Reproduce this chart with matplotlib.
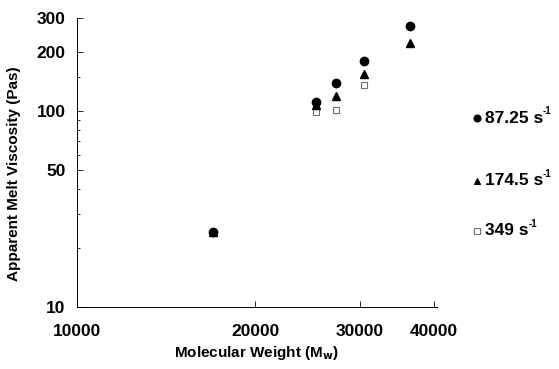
import matplotlib.pyplot as plt
from matplotlib.lines import Line2D
from matplotlib.ticker import FixedLocator, NullFormatter, NullLocator

plt.rcParams['font.family'] = ['Liberation Sans', 'DejaVu Sans']
plt.rcParams['font.weight'] = 'bold'

# molecular weight (Mw) and apparent melt viscosity (Pas) at three shear rates
mw = [17000, 25300, 27400, 30500, 36400]
visc_87 = [24.2, 112, 140, 180, 272]
visc_174 = [24.2, 108, 119, 155, 223]
mw_349 = [17000, 25300, 27400, 30500]
visc_349 = [24.2, 99, 101, 136]

series_labels = ['87.25 s', '174.5 s', '349 s']
y_ticks = [10, 50, 100, 200, 300]
x_ticks = [10000, 20000, 30000, 40000]

fig = plt.figure(figsize=(5.59, 3.69), dpi=100)
ax = fig.add_axes([0.137, 0.168, 0.645, 0.784])

ax.plot(mw_349, visc_349, 's', mfc='white', mec='#6e6e6e', ms=5, mew=0.8, zorder=2)
ax.plot(mw, visc_174, '^', color='black', ms=6, zorder=3)
ax.plot(mw, visc_87, 'o', color='black', ms=6, zorder=4)

ax.set_xscale('log')
ax.set_yscale('log')
ax.set_xlim(10000, 40500)
ax.set_ylim(10, 300)

ax.yaxis.set_major_locator(FixedLocator(y_ticks))
ax.set_yticklabels([str(v) for v in y_ticks])
ax.yaxis.set_minor_locator(FixedLocator([20, 30, 40, 60, 70, 80, 90, 150]))
ax.yaxis.set_minor_formatter(NullFormatter())
ax.xaxis.set_major_locator(FixedLocator(x_ticks))
ax.set_xticklabels([str(v) for v in x_ticks])
ax.xaxis.set_minor_locator(NullLocator())

ax.spines['top'].set_visible(False)
ax.spines['right'].set_visible(False)
ax.spines['left'].set_linewidth(0.7)
ax.spines['bottom'].set_linewidth(0.7)
ax.tick_params(axis='both', which='both', direction='in', width=0.6)
ax.tick_params(axis='both', which='major', length=4, labelsize=12.5)
ax.tick_params(axis='both', which='minor', length=2)
ax.tick_params(axis='x', pad=12)
ax.tick_params(axis='y', pad=8)

ax.set_xlabel(r'Molecular Weight (M$_{\mathbf{w}}$)', fontsize=11, fontweight='bold', labelpad=4)
ax.set_ylabel('Apparent Melt Viscosity (Pas)', fontsize=11, fontweight='bold', labelpad=12)
ax.yaxis.set_label_coords(-0.155, 0.46)

# legend drawn by hand at the right side
legend_y = [0.68, 0.51, 0.375]
legend_markers = [('o', 'black', 'black', 5), ('^', 'black', 'black', 5), ('s', 'white', '#6e6e6e', 5)]
fig.canvas.draw()
for (m, fc, ec, s), ly, lab in zip(legend_markers, legend_y, series_labels):
    fig.add_artist(Line2D([0.853], [ly], marker=m, mfc=fc, mec=ec, ms=s, mew=0.8,
                          transform=fig.transFigure))
    t = fig.text(0.868, ly, lab, fontsize=12.5, fontweight='bold', va='center', ha='left')
    bb = t.get_window_extent(renderer=fig.canvas.get_renderer())
    fig.text(bb.x1 / fig.bbox.width - 0.001, ly + 0.018, '-1', fontsize=7,
             fontweight='bold', va='center', ha='left')

fig.savefig('out.png', dpi=100)
